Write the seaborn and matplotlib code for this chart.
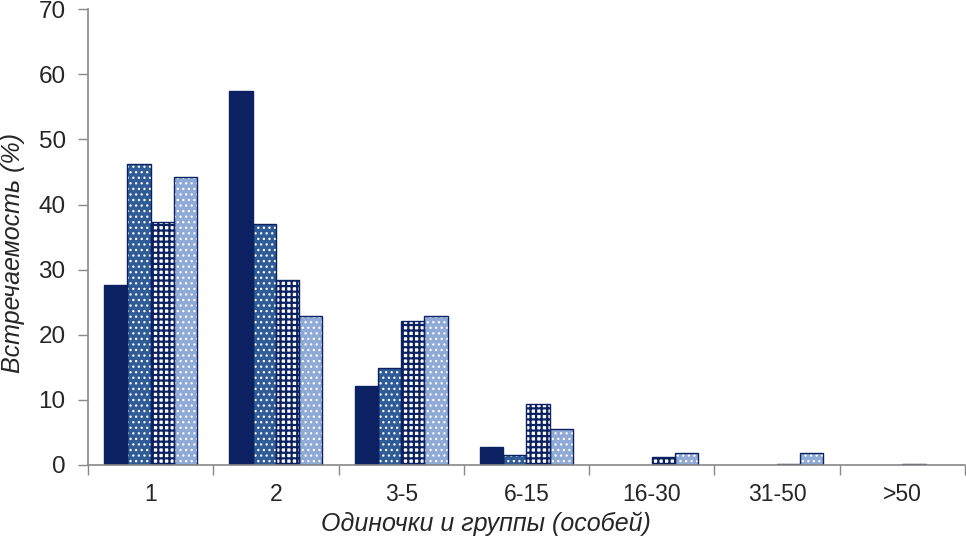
import matplotlib
matplotlib.use("Agg")
import matplotlib.pyplot as plt
from matplotlib.patches import Rectangle
import numpy as np
import pandas as pd
import seaborn as sns

categories = ["1", "2", "3-5", "6-15", "16-30", "31-50", ">50"]
series_names = ["s1", "s2", "s3", "s4"]
s1 = [27.6, 57.4, 12.1, 2.8, 0.0, 0.0, 0.0]
s2 = [46.2, 37.0, 14.9, 1.5, 0.0, 0.0, 0.0]
s3 = [37.3, 28.4, 22.1, 9.4, 1.2, 0.2, 0.2]
s4 = [44.2, 22.9, 22.9, 5.5, 1.8, 1.8, 0.0]

df = pd.DataFrame({
    "group": categories * 4,
    "series": np.repeat(series_names, len(categories)),
    "value": s1 + s2 + s3 + s4,
})

navy = "#0b2161"
face = {"s1": navy, "s2": "#2f5b97", "s3": "white", "s4": "#8faad6"}
hatch = {"s1": None, "s2": "...", "s3": "+++", "s4": "..."}
hatch_col = {"s1": navy, "s2": "white", "s3": navy, "s4": "white"}
hatch_lw = {"s1": 1.0, "s2": 0.9, "s3": 1.6, "s4": 0.9}

sns.set_style("white")
plt.rcParams["font.family"] = ["Liberation Sans", "DejaVu Sans"]
plt.rcParams["hatch.linewidth"] = 1.0

fig, ax = plt.subplots(figsize=(9.66, 5.4), dpi=100)
sns.barplot(data=df, x="group", y="value", hue="series", order=categories,
            hue_order=series_names, palette=face, width=0.74, gap=0,
            saturation=1, legend=False, ax=ax)

for cont, name in zip(ax.containers, series_names):
    for p in cont:
        if hatch[name]:
            p.set_hatch(hatch[name])
            if hasattr(p, "set_hatch_linewidth"):
                p.set_hatch_linewidth(hatch_lw[name])
        # hatch takes the edge colour, so draw the outline as a separate patch
        p.set_edgecolor(hatch_col[name])
        p.set_linewidth(0)
        if p.get_height() > 0:
            ax.add_patch(Rectangle(p.get_xy(), p.get_width(), p.get_height(),
                                   fill=False, edgecolor=navy, linewidth=1.0,
                                   zorder=p.get_zorder() + 0.1))

ax.set_xlim(-0.5, len(categories) - 0.5)
ax.set_ylim(0, 70)
ax.set_yticks(range(0, 71, 10))
ax.set_xticks(np.arange(-0.5, len(categories), 1.0), minor=True)
ax.tick_params(axis="x", which="major", length=0, pad=13, labelsize=16.5)
ax.tick_params(axis="x", which="minor", length=7, width=1, color="#888888",
               direction="out", bottom=True)
ax.tick_params(axis="y", length=7, width=1, color="#888888", direction="out",
               left=True, labelsize=17.5, pad=9)

sns.despine(ax=ax)
for s in ("left", "bottom"):
    ax.spines[s].set_color("#888888")
    ax.spines[s].set_linewidth(1.2)

ax.set_xlabel("Одиночки и группы (особей)", fontsize=18, style="italic")
ax.set_ylabel("Встречаемость (%)", fontsize=18, style="italic")
ax.xaxis.set_label_coords(0.454, -0.102)
ax.yaxis.set_label_coords(-0.072, 0.465)

fig.subplots_adjust(left=0.091, right=0.999, top=0.983, bottom=0.139)
fig.savefig("out.png", dpi=100)
